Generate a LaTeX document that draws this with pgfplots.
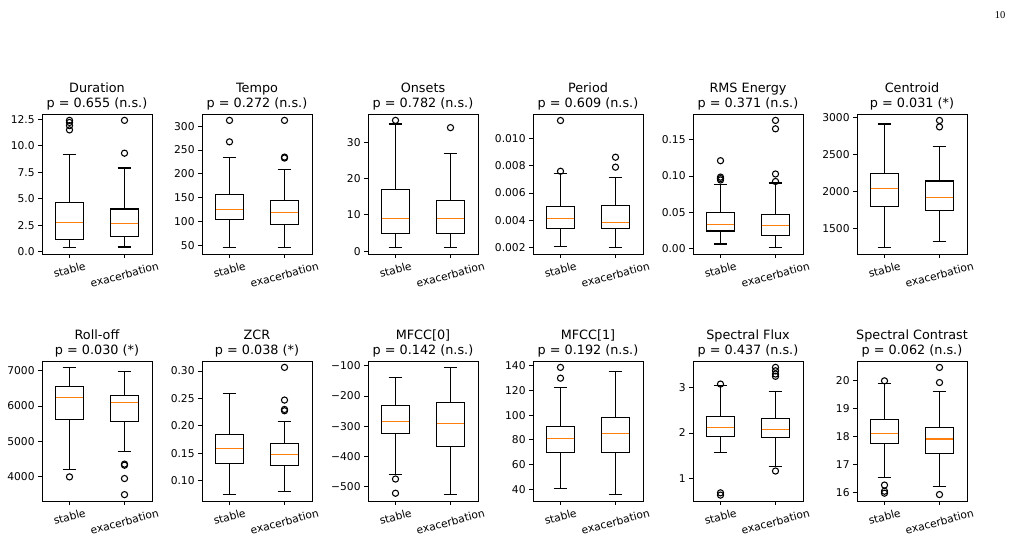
\documentclass[border=0pt]{standalone}
\usepackage{fontspec}
\setmainfont{DejaVu Sans}
\newfontfamily\pagefont{Liberation Serif}
\usepackage{graphicx}
\usepackage{pgfplots}
\pgfplotsset{compat=1.18}
\usepgfplotslibrary{statistics}
\definecolor{medorange}{HTML}{FF7F0E}

\pgfplotsset{
  panel/.style={
    scale only axis, width=110pt, height=140pt,
    anchor=north west,
    scaled ticks=false,
    xmin=0.5, xmax=2.5, xtick={1,2},
    xticklabels={\rotatebox{15}{stable},\rotatebox{15}{exacerbation}},
    tick align=outside, tick pos=left,
    major tick length=3.7pt,
    every tick/.style={black, line width=0.86pt},
    axis line style={black, line width=0.86pt},
    ticklabel style={font=\fontsize{10.7}{12.8}\selectfont, inner sep=0pt},
    xticklabel style={anchor=north, yshift=-3.7pt},
    yticklabel style={anchor=east, xshift=-3.5pt},
    every axis title shift=0pt,
    title style={align=center, font=\fontsize{12.8}{15.4}\selectfont,
      anchor=south, at={(0.5,1)}, inner sep=0pt, yshift=3.3pt},
    boxplot/draw direction=y,
    boxplot/box extend=0.5,
    boxplot/whisker extend=0.25,
    boxplot/every box/.style={draw=black, line width=1.07pt, fill=none},
    boxplot/every whisker/.style={draw=black, line width=1.07pt},
    boxplot/every median/.style={draw=medorange, line width=1.07pt},
  },
  bx/.style={black, line width=1.07pt, mark=o, mark size=3.1pt,
    mark options={solid, draw=black, fill=none, line width=1.07pt}},
  % position, lower whisker, lower quartile, median, upper quartile, upper whisker
  bs/.style n args={6}{bx, boxplot prepared={draw position=#1,
    lower whisker=#2, lower quartile=#3, median=#4,
    upper quartile=#5, upper whisker=#6}},
}

\begin{document}
\begin{tikzpicture}
\path[use as bounding box] (0pt,0pt) rectangle (1011pt,542pt);
\node[font=\pagefont\fontsize{10.5}{12}\selectfont] at (1000pt,526.5pt) {10};

% ---------------- first row ----------------
\begin{axis}[panel, at={(42pt,428pt)},
  title={Duration\\p = 0.655 (n.s.)},
  ymin=-0.22, ymax=13.0,
  ytick={0,2.5,5,7.5,10,12.5},
  yticklabels={0.0,2.5,5.0,7.5,10.0,12.5}]
\addplot[bs={1}{0.38}{1.15}{2.75}{4.6}{9.15}]
  coordinates {(1,12.4) (1,12.2) (1,11.9) (1,11.5)};
\addplot[bs={2}{0.44}{1.4}{2.7}{4.03}{7.9}]
  coordinates {(2,12.4) (2,9.3)};
\end{axis}

\begin{axis}[panel, at={(202pt,428pt)},
  title={Tempo\\p = 0.272 (n.s.)},
  ymin=31.6, ymax=325.4,
  ytick={50,100,150,200,250,300},
  yticklabels={50,100,150,200,250,300}]
\addplot[bs={1}{45}{104.5}{125}{156}{235}]
  coordinates {(1,312) (1,267)};
\addplot[bs={2}{45}{94}{118}{143}{208}]
  coordinates {(2,312) (2,235) (2,233)};
\end{axis}

\begin{axis}[panel, at={(368pt,428pt)},
  title={Onsets\\p = 0.782 (n.s.)},
  ymin=-0.75, ymax=37.75,
  ytick={0,10,20,30},
  yticklabels={0,10,20,30}]
\addplot[bs={1}{1}{5}{9}{17}{35}]
  coordinates {(1,36)};
\addplot[bs={2}{1}{5}{9}{14}{27}]
  coordinates {(2,34)};
\end{axis}

\begin{axis}[panel, at={(533pt,428pt)},
  title={Period\\p = 0.609 (n.s.)},
  ymin=0.00153, ymax=0.0118,
  ytick={0.002,0.004,0.006,0.008,0.010},
  yticklabels={0.002,0.004,0.006,0.008,0.010}]
\addplot[bs={1}{0.0021}{0.0034}{0.00413}{0.00503}{0.00743}]
  coordinates {(1,0.01132) (1,0.0076)};
\addplot[bs={2}{0.0020}{0.00337}{0.00386}{0.00511}{0.00716}]
  coordinates {(2,0.00863) (2,0.0079)};
\end{axis}

\begin{axis}[panel, at={(693pt,428pt)},
  title={RMS Energy\\p = 0.371 (n.s.)},
  ymin=-0.0074, ymax=0.1854,
  ytick={0,0.05,0.10,0.15},
  yticklabels={0.00,0.05,0.10,0.15}]
\addplot[bs={1}{0.0064}{0.0243}{0.0326}{0.050}{0.0885}]
  coordinates {(1,0.1211) (1,0.0985) (1,0.0965) (1,0.0945)};
\addplot[bs={2}{0.0014}{0.0183}{0.0317}{0.0468}{0.0904}]
  coordinates {(2,0.1766) (2,0.165) (2,0.1028) (2,0.0925)};
\end{axis}

\begin{axis}[panel, at={(857pt,428pt)},
  title={Centroid\\p = 0.031 (*)},
  ymin=1150, ymax=3050,
  ytick={1500,2000,2500,3000},
  yticklabels={1500,2000,2500,3000}]
\addplot[bs={1}{1236}{1800}{2036}{2245}{2914}]
  coordinates {};
\addplot[bs={2}{1323}{1745}{1923}{2141}{2609}]
  coordinates {(2,2962) (2,2875)};
\end{axis}

% ---------------- second row ----------------
\begin{axis}[panel, at={(42pt,181pt)},
  title={Roll-off\\p = 0.030 (*)},
  ymin=3318, ymax=7274,
  ytick={4000,5000,6000,7000},
  yticklabels={4000,5000,6000,7000}]
\addplot[bs={1}{4218}{5609}{6233}{6565}{7094}]
  coordinates {(1,4000)};
\addplot[bs={2}{4729}{5571}{6101}{6300}{6981}]
  coordinates {(2,4360) (2,4330) (2,3953) (2,3498)};
\end{axis}

\begin{axis}[panel, at={(202pt,181pt)},
  title={ZCR\\p = 0.038 (*)},
  ymin=0.0628, ymax=0.3183,
  ytick={0.10,0.15,0.20,0.25,0.30},
  yticklabels={0.10,0.15,0.20,0.25,0.30}]
\addplot[bs={1}{0.0744}{0.1317}{0.159}{0.1835}{0.2585}]
  coordinates {};
\addplot[bs={2}{0.0805}{0.1268}{0.147}{0.167}{0.2073}]
  coordinates {(2,0.3067) (2,0.247) (2,0.2299) (2,0.2275)};
\end{axis}

\begin{axis}[panel, at={(368pt,181pt)},
  title={MFCC[0]\\p = 0.142 (n.s.)},
  ymin=-547.7, ymax=-84.4,
  ytick={-500,-400,-300,-200,-100},
  yticklabels={−500,−400,−300,−200,−100}]
\addplot[bs={1}{-460}{-325}{-284}{-232}{-140}]
  coordinates {(1,-475) (1,-522)};
\addplot[bs={2}{-526.6}{-366}{-292}{-223}{-105.5}]
  coordinates {};
\end{axis}

\begin{axis}[panel, at={(533pt,181pt)},
  title={MFCC[1]\\p = 0.192 (n.s.)},
  ymin=30.5, ymax=143.9,
  ytick={40,60,80,100,120,140},
  yticklabels={40,60,80,100,120,140}]
\addplot[bs={1}{40.5}{69.5}{81}{91.2}{122.6}]
  coordinates {(1,138.7) (1,130)};
\addplot[bs={2}{35.7}{69.5}{85.3}{98.4}{135.4}]
  coordinates {};
\end{axis}

\begin{axis}[panel, at={(693pt,181pt)},
  title={Spectral Flux\\p = 0.437 (n.s.)},
  ymin=0.511, ymax=3.575,
  ytick={1,2,3},
  yticklabels={1,2,3}]
\addplot[bs={1}{1.58}{1.924}{2.12}{2.367}{3.03}]
  coordinates {(1,3.07) (1,0.69) (1,0.64)};
\addplot[bs={2}{1.276}{1.90}{2.084}{2.324}{2.905}]
  coordinates {(2,3.436) (2,3.36) (2,3.29) (2,3.24) (2,1.167)};
\end{axis}

\begin{axis}[panel, at={(857pt,181pt)},
  title={Spectral Contrast\\p = 0.062 (n.s.)},
  ymin=15.70, ymax=20.71,
  ytick={16,17,18,19,20},
  yticklabels={16,17,18,19,20}]
\addplot[bs={1}{16.55}{17.76}{18.11}{18.63}{19.92}]
  coordinates {(1,20.0) (1,16.27) (1,16.05) (1,15.98)};
\addplot[bs={2}{16.23}{17.41}{17.92}{18.34}{19.63}]
  coordinates {(2,20.48) (2,19.94) (2,15.93)};
\end{axis}
\end{tikzpicture}
\end{document}
